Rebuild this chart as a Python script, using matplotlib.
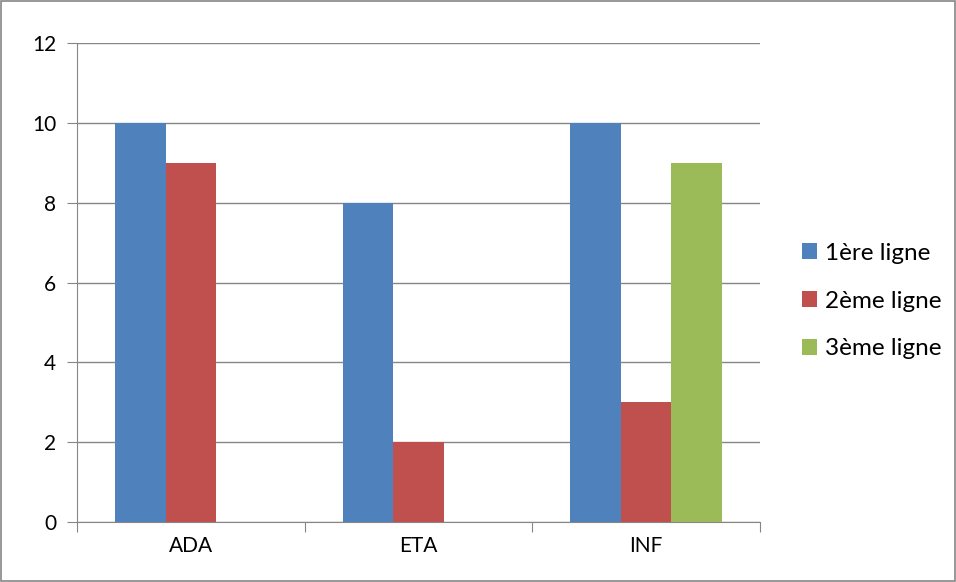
import matplotlib
matplotlib.use('Agg')
import matplotlib.pyplot as plt
import numpy as np
from matplotlib.patches import Rectangle

categories = ['ADA', 'ETA', 'INF']
series_names = ['1ère ligne', '2ème ligne', '3ème ligne']
ligne1 = [10, 8, 10]
ligne2 = [9, 2, 3]
ligne3 = [0, 0, 9]
colors = ['#4F81BD', '#C0504D', '#9BBB59']

plt.rcParams['font.family'] = ['Lato', 'DejaVu Sans']

fig = plt.figure(figsize=(9.56, 5.82), dpi=100)
ax = fig.add_axes([0.0805, 0.1031, 0.7145, 0.8230])

x = np.arange(len(categories))
w = 1 / 4.5
for i, (vals, name) in enumerate(zip([ligne1, ligne2, ligne3], series_names)):
    ax.bar(x + (i - 1) * w, vals, w, color=colors[i], label=name, zorder=3)

ax.set_xlim(-0.5, 2.5)
ax.set_ylim(0, 12)
ax.set_yticks(range(0, 13, 2))
ax.grid(True, axis='y', color='#868686', linewidth=1, zorder=0)

ax.set_xticks([-0.5, 0.5, 1.5, 2.5])
ax.set_xticklabels([])
ax.set_xticks(x, minor=True)
ax.set_xticklabels(categories, minor=True, fontsize=15)
ax.tick_params(axis='x', which='major', length=7, color='#868686')
ax.tick_params(axis='x', which='minor', length=0, pad=10)
ax.tick_params(axis='y', length=7, color='#868686', labelsize=15, pad=8)

for side in ['top', 'right']:
    ax.spines[side].set_visible(False)
for side in ['left', 'bottom']:
    ax.spines[side].set_color('#868686')

fig.legend(loc='center left', bbox_to_anchor=(802 / 956, 1 - 301 / 582),
           bbox_transform=fig.transFigure, frameon=False,
           fontsize=17.5, handlelength=0.63, handleheight=0.63, handletextpad=0.3,
           labelspacing=1.1, borderaxespad=0, borderpad=0)

fig.patches.append(Rectangle((0.001, 0.001), 0.998, 0.998, transform=fig.transFigure,
                             fill=False, edgecolor='#868686', linewidth=1.2))

plt.savefig('out.png', dpi=100)
plt.close()
